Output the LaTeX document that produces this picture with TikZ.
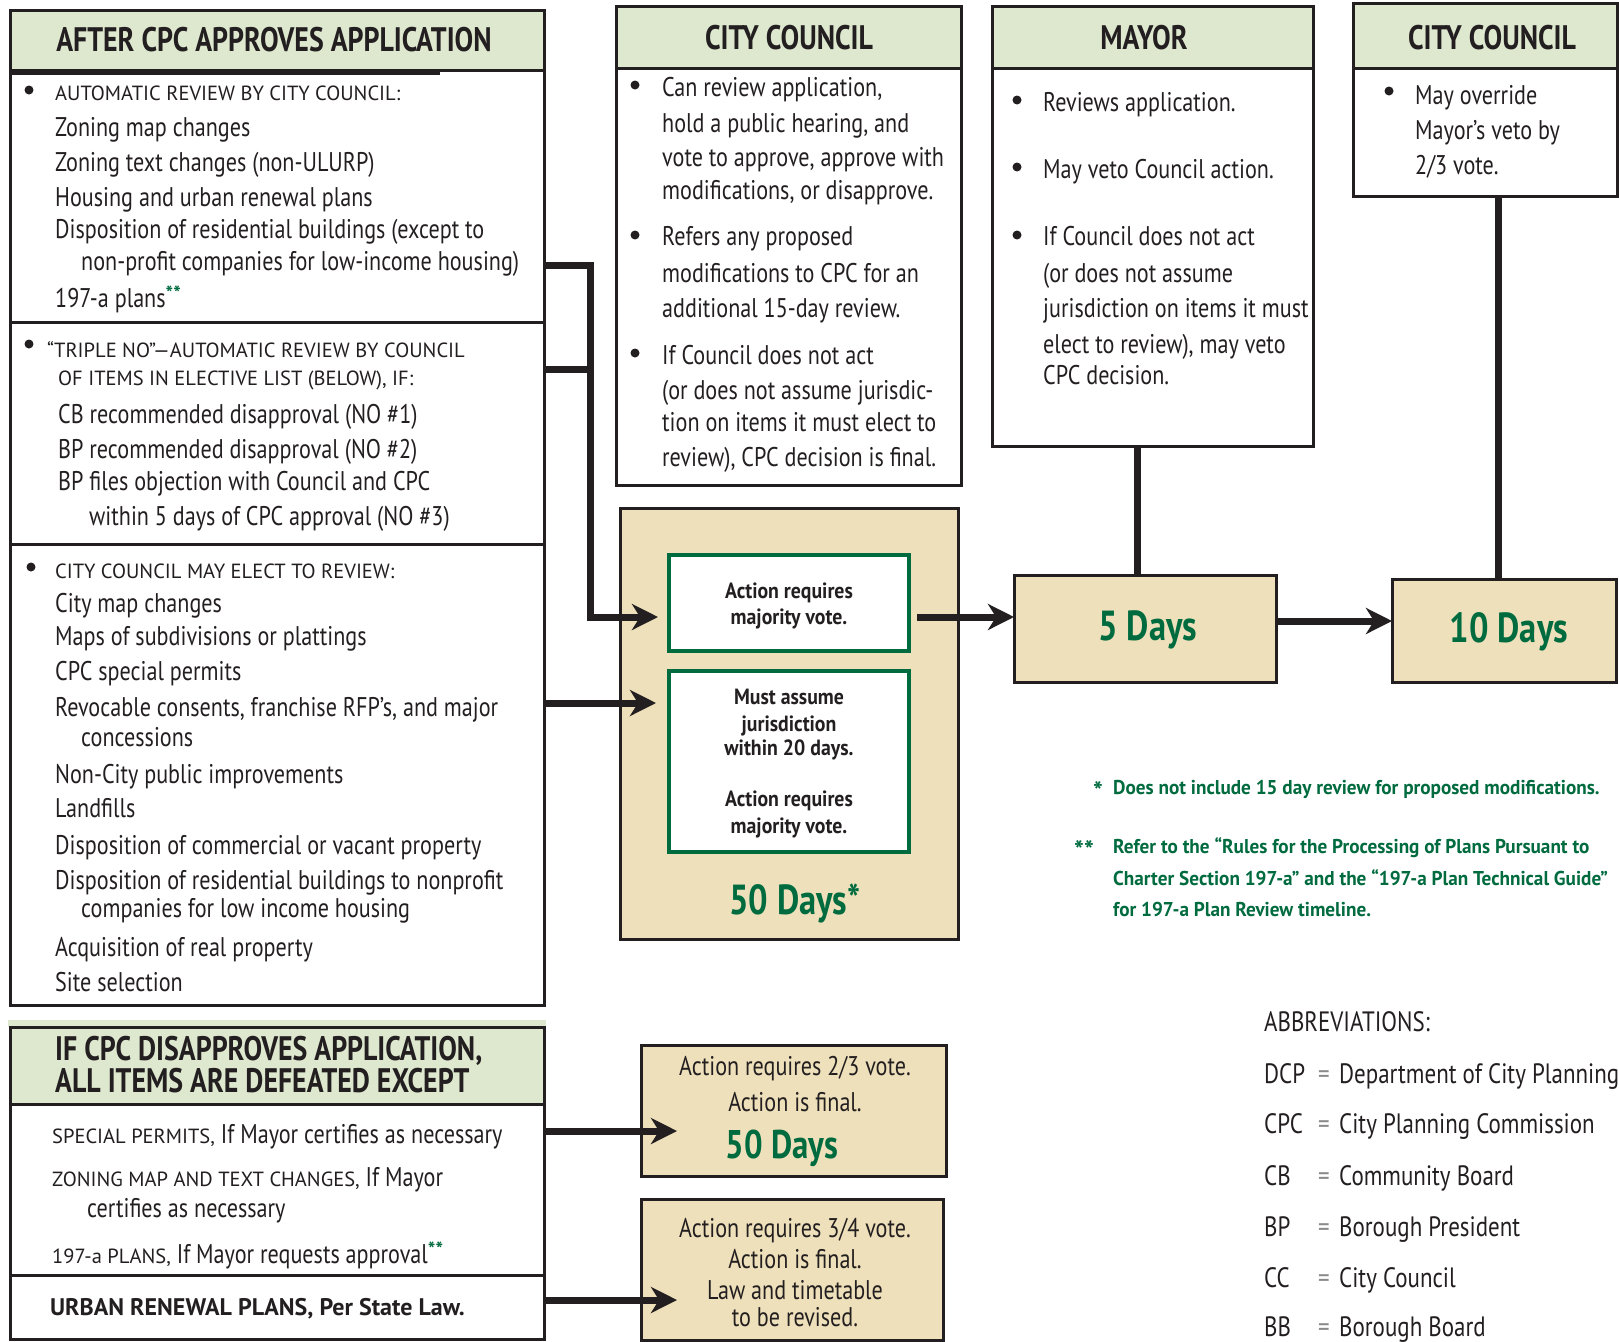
\documentclass[tikz,border=0pt]{standalone}
\usepackage{fontspec}
\setmainfont[FakeStretch=0.82]{PT Sans}
\newfontfamily\widef{PT Sans}
\newfontfamily\footf[FakeStretch=0.96]{PT Sans}
\newfontfamily\midf[FakeStretch=0.9]{PT Sans}
\usetikzlibrary{arrows.meta}
\definecolor{ink}{HTML}{231F20}
\definecolor{hdrg}{HTML}{DDE8CF}
\definecolor{tanc}{HTML}{EEE0BA}
\definecolor{dkg}{HTML}{006B3F}
\definecolor{eqg}{HTML}{8A8A8A}
\newcommand{\gstars}{\raisebox{7pt}{\widef\bfseries\fontsize{20}{20}\selectfont\color{dkg}**}}
\newcommand{\bodysz}{\normalfont\fontsize{27}{27}\selectfont}
\begin{document}
\begin{tikzpicture}[x=1pt,y=-1pt,
  box/.style={draw=ink, line width=3pt, anchor=north west, inner sep=0pt, outer sep=0pt},
  hdr/.style={box, fill=hdrg},
  tanbox/.style={box, fill=tanc},
  gbox/.style={draw=dkg, line width=3.5pt, fill=white, anchor=north west, inner sep=0pt, outer sep=0pt},
  txt/.style={anchor=base west, inner sep=0pt, text=ink, font=\bodysz, yshift=-1.5pt},
  sctxt/.style={txt, font=\widef\fontsize{20.5}{20.5}\selectfont},
  ctr/.style={anchor=base, inner sep=0pt, text=ink, font=\midf\bfseries\fontsize{22}{22}\selectfont},
  tctr/.style={anchor=base, inner sep=0pt, text=ink, font=\fontsize{27}{27}\selectfont},
  htxt/.style={anchor=center, inner sep=0pt, text=ink, font=\bfseries\fontsize{34}{34}\selectfont},
  big/.style={anchor=base, inner sep=0pt, text=dkg, font=\bfseries\fontsize{42}{42}\selectfont},
  foot/.style={anchor=base west, inner sep=0pt, text=dkg, font=\footf\bfseries\fontsize{20}{20}\selectfont},
  fstar/.style={anchor=base west, inner sep=0pt, text=dkg, font=\widef\bfseries\fontsize{26}{26}\selectfont},
  abbr/.style={anchor=base west, inner sep=0pt, text=ink, font=\fontsize{28}{28}\selectfont},
  dot/.style={circle, fill=ink, inner sep=0pt, minimum size=9pt},
  conn/.style={draw=ink, line width=7pt},
  arr/.style={conn, -{Stealth[length=26pt,width=26pt,inset=8pt]}}
]
\useasboundingbox (0,0) rectangle (1619,1341);
\fill[white] (0,0) rectangle (1619,1341);

% ---------------- left box 1 ----------------
\node[hdr, minimum width=534pt, minimum height=60pt] (A0) at (10,10) {};
\draw[ink, line width=3pt] (10,73) -- (440,73);
\node[box, minimum width=534pt, minimum height=252pt] (A1) at (10,70) {};
\node[box, minimum width=534pt, minimum height=222pt] (A2) at (10,322) {};
\node[box, minimum width=534pt, minimum height=461pt] (A3) at (10,544) {};
\node[htxt] (a0t) at (274,40) {AFTER CPC APPROVES APPLICATION};

\node[dot] (a1d) at (29,90) {};
\node[sctxt] (a1h) at (55,99) {AUTOMATIC REVIEW BY CITY COUNCIL:};
\node[txt] (a1l1) at (55,135) {Zoning map changes};
\node[txt] (a1l2) at (55,170) {Zoning text changes (non-ULURP)};
\node[txt] (a1l3) at (55,205) {Housing and urban renewal plans};
\node[txt] (a1l4) at (55,237) {Disposition of residential buildings (except to};
\node[txt] (a1l5) at (81,269) {non-profit companies for low-income housing)};
\node[txt] (a1l6) at (55,306) {197-a plans\gstars};

\node[dot] (a2d) at (29,344) {};
\node[sctxt] (a2h1) at (47,356) {“TRIPLE NO”—AUTOMATIC REVIEW BY COUNCIL};
\node[sctxt] (a2h2) at (58,384) {OF ITEMS IN ELECTIVE LIST (BELOW), IF:};
\node[txt] (a2l1) at (58,422) {CB recommended disapproval (NO \#1)};
\node[txt] (a2l2) at (58,457) {BP recommended disapproval (NO \#2)};
\node[txt] (a2l3) at (58,489) {BP files objection with Council and CPC};
\node[txt] (a2l4) at (89,524) {within 5 days of CPC approval (NO \#3)};

\node[dot] (a3d) at (31,567) {};
\node[sctxt] (a3h) at (55,577) {CITY COUNCIL MAY ELECT TO REVIEW:};
\node[txt] (a3l1) at (55,611) {City map changes};
\node[txt] (a3l2) at (55,644) {Maps of subdivisions or plattings};
\node[txt] (a3l3) at (55,679) {CPC special permits};
\node[txt] (a3l4) at (55,715) {Revocable consents, franchise RFP's, and major};
\node[txt] (a3l5) at (81,745) {concessions};
\node[txt] (a3l6) at (55,782) {Non-City public improvements};
\node[txt] (a3l7) at (55,816) {Landfills};
\node[txt] (a3l8) at (55,853) {Disposition of commercial or vacant property};
\node[txt] (a3l9) at (55,888) {Disposition of residential buildings to nonprofit};
\node[txt] (a3l10) at (81,916) {companies for low income housing};
\node[txt] (a3l11) at (55,955) {Acquisition of real property};
\node[txt] (a3l12) at (55,990) {Site selection};

% ---------------- left box 2 ----------------
\fill[hdrg] (8,1020) rectangle (546,1027);
\node[hdr, minimum width=534pt, minimum height=77pt] (B0) at (10,1027) {};
\node[box, minimum width=534pt, minimum height=171pt] (B1) at (10,1104) {};
\node[box, minimum width=534pt, minimum height=64pt] (B2) at (10,1275) {};
\node[htxt, anchor=base west] (b0t1) at (55,1060) {IF CPC DISAPPROVES APPLICATION,};
\node[htxt, anchor=base west] (b0t2) at (55,1092) {ALL ITEMS ARE DEFEATED EXCEPT};
\node[sctxt] (b1l1) at (52,1142) {SPECIAL PERMITS,{\bodysz\ If Mayor certifies as necessary}};
\node[sctxt] (b1l2) at (52,1185) {ZONING MAP AND TEXT CHANGES,{\bodysz\ If Mayor}};
\node[txt] (b1l3) at (87,1216) {certifies as necessary};
\node[sctxt] (b1l4) at (52,1262) {197-a PLANS,{\bodysz\ If Mayor requests approval\gstars}};
\node[txt, font=\widef\bfseries\fontsize{24}{24}\selectfont] (b2l1) at (50,1314) {URBAN RENEWAL PLANS, Per State Law.};

% ---------------- middle city council ----------------
\node[hdr, minimum width=345pt, minimum height=62pt] (C0) at (616,6) {};
\node[box, minimum width=345pt, minimum height=417pt] (C1) at (616,68) {};
\node[htxt] (c0t) at (789,38) {CITY COUNCIL};
\node[dot] (c1d1) at (635,85) {};
\node[dot] (c1d2) at (635,235) {};
\node[dot] (c1d3) at (635,353) {};
\node[txt] (c1l1) at (662,95) {Can review application,};
\node[txt] (c1l2) at (662,131) {hold a public hearing, and};
\node[txt] (c1l3) at (662,165) {vote to approve, approve with};
\node[txt] (c1l4) at (662,198) {modifications, or disapprove.};
\node[txt] (c1l5) at (662,244) {Refers any proposed};
\node[txt] (c1l6) at (662,281) {modifications to CPC for an};
\node[txt] (c1l7) at (662,316) {additional 15-day review.};
\node[txt] (c1l8) at (662,363) {If Council does not act};
\node[txt] (c1l9) at (662,398) {(or does not assume jurisdic-};
\node[txt] (c1l10) at (662,430) {tion on items it must elect to};
\node[txt] (c1l11) at (662,465) {review), CPC decision is final.};

% ---------------- 50 days ----------------
\node[tanbox, minimum width=338pt, minimum height=431pt] (T50) at (620,508) {};
\node[gbox, minimum width=240pt, minimum height=96pt] (I1) at (669,555) {};
\node[gbox, minimum width=240pt, minimum height=181pt] (I2) at (669,671) {};
\node[ctr] (i1l1) at (789,598) {Action requires};
\node[ctr] (i1l2) at (789,624) {majority vote.};
\node[ctr] (i2l1) at (789,704) {Must assume};
\node[ctr] (i2l2) at (789,731) {jurisdiction};
\node[ctr] (i2l3) at (789,755) {within 20 days.};
\node[ctr] (i2l4) at (789,806) {Action requires};
\node[ctr] (i2l5) at (789,833) {majority vote.};
\node[big] (t50t) at (795,914) {50 Days*};

% ---------------- mayor ----------------
\node[hdr, minimum width=321pt, minimum height=62pt] (M0) at (992,6) {};
\node[box, minimum width=321pt, minimum height=378pt] (M1) at (992,68) {};
\node[htxt] (m0t) at (1144,38) {MAYOR};
\node[dot] (m1d1) at (1017,100) {};
\node[dot] (m1d2) at (1017,167) {};
\node[dot] (m1d3) at (1017,235) {};
\node[txt] (m1l1) at (1043,110) {Reviews application.};
\node[txt] (m1l2) at (1043,177) {May veto Council action.};
\node[txt] (m1l3) at (1043,244) {If Council does not act};
\node[txt] (m1l4) at (1043,281) {(or does not assume};
\node[txt] (m1l5) at (1043,316) {jurisdiction on items it must};
\node[txt] (m1l6) at (1043,352) {elect to review), may veto};
\node[txt] (m1l7) at (1043,383) {CPC decision.};

% ---------------- 5 days ----------------
\node[tanbox, minimum width=262pt, minimum height=107pt] (D5) at (1014,575) {};
\node[big] (d5t) at (1148,640) {5 Days};

% ---------------- right city council ----------------
\node[hdr, minimum width=264pt, minimum height=65pt] (E0) at (1353,3) {};
\node[box, minimum width=264pt, minimum height=128pt] (E1) at (1353,68) {};
\node[htxt] (e0t) at (1492,38) {CITY COUNCIL};
\node[dot] (e1d) at (1389,91) {};
\node[txt] (e1l1) at (1415,103) {May override};
\node[txt] (e1l2) at (1415,138) {Mayor's veto by};
\node[txt] (e1l3) at (1415,173) {2/3 vote.};

% ---------------- 10 days ----------------
\node[tanbox, minimum width=224pt, minimum height=103pt] (D10) at (1392,579) {};
\node[big] (d10t) at (1509,642) {10 Days};

% ---------------- bottom tan boxes ----------------
\node[tanbox, minimum width=305pt, minimum height=131pt] (TA) at (641,1045) {};
\node[tctr] (tal1) at (795,1075) {Action requires 2/3 vote.};
\node[tctr] (tal2) at (795,1111) {Action is final.};
\node[big, font=\bfseries\fontsize{40}{40}\selectfont] (tal3) at (782,1158) {50 Days};
\node[tanbox, minimum width=302pt, minimum height=141pt] (TB) at (641,1199) {};
\node[tctr] (tbl1) at (795,1237) {Action requires 3/4 vote.};
\node[tctr] (tbl2) at (795,1268) {Action is final.};
\node[tctr] (tbl3) at (795,1299) {Law and timetable};
\node[tctr] (tbl4) at (795,1326) {to be revised.};

% ---------------- footnotes ----------------
\node[fstar] (f1s) at (1093,800) {*};
\node[foot] (f1) at (1113,794) {Does not include 15 day review for proposed modifications.};
\node[fstar] (f2s) at (1074,859) {**};
\node[foot] (f2a) at (1113,853) {Refer to the “Rules for the Processing of Plans Pursuant to};
\node[foot] (f2b) at (1113,885) {Charter Section 197-a” and the “197-a Plan Technical Guide”};
\node[foot] (f2c) at (1113,916) {for 197-a Plan Review timeline.};

% ---------------- abbreviations ----------------
\node[abbr] (ab0) at (1264,1031) {ABBREVIATIONS:};
\node[abbr] (ab1a) at (1264,1083) {DCP};
\node[abbr, text=eqg] (ab1e) at (1318,1083) {=};
\node[abbr] (ab1b) at (1339,1083) {Department of City Planning};
\node[abbr] (ab2a) at (1264,1133) {CPC};
\node[abbr, text=eqg] (ab2e) at (1318,1133) {=};
\node[abbr] (ab2b) at (1339,1133) {City Planning Commission};
\node[abbr] (ab3a) at (1264,1185) {CB};
\node[abbr, text=eqg] (ab3e) at (1318,1185) {=};
\node[abbr] (ab3b) at (1339,1185) {Community Board};
\node[abbr] (ab4a) at (1264,1236) {BP};
\node[abbr, text=eqg] (ab4e) at (1318,1236) {=};
\node[abbr] (ab4b) at (1339,1236) {Borough President};
\node[abbr] (ab5a) at (1264,1287) {CC};
\node[abbr, text=eqg] (ab5e) at (1318,1287) {=};
\node[abbr] (ab5b) at (1339,1287) {City Council};
\node[abbr] (ab6a) at (1264,1336) {BB};
\node[abbr, text=eqg] (ab6e) at (1318,1336) {=};
\node[abbr] (ab6b) at (1339,1336) {Borough Board};

% ---------------- connectors ----------------
\coordinate (j1) at (590,265);
\coordinate (j2) at (590,369);
\coordinate (r0) at (0,617);
\coordinate (r3) at (0,703);
\coordinate (r2) at (0,621);
\coordinate (r4) at (0,1131);
\coordinate (r5) at (0,1300);
\coordinate (m5) at (1137,0);
\coordinate (m10) at (1498,0);

\draw[conn] (A1.east |- j1) -- ([xshift=3.5pt]j1);
\draw[conn] (A2.east |- j2) -- (j2);
\draw[arr, shorten >=11pt] (j1) -- (j1 |- r0) -- (I1.west |- r0);
\draw[arr, shorten >=13pt] (A3.east |- r3) -- (I2.west |- r3);
\draw[arr, shorten <=8pt] (I1.east |- r0) -- (D5.west |- r0);
\draw[arr] (D5.east |- r2) -- (D10.west |- r2);
\draw[conn] (M1.south -| m5) -- (D5.north -| m5);
\draw[conn] (E1.south -| m10) -- (D10.north -| m10);
\draw[arr, shorten >=-36pt] (B1.east |- r4) -- (TA.west |- r4);
\draw[arr, shorten >=-36pt] (B2.east |- r5) -- (TB.west |- r5);
\end{tikzpicture}
\end{document}
